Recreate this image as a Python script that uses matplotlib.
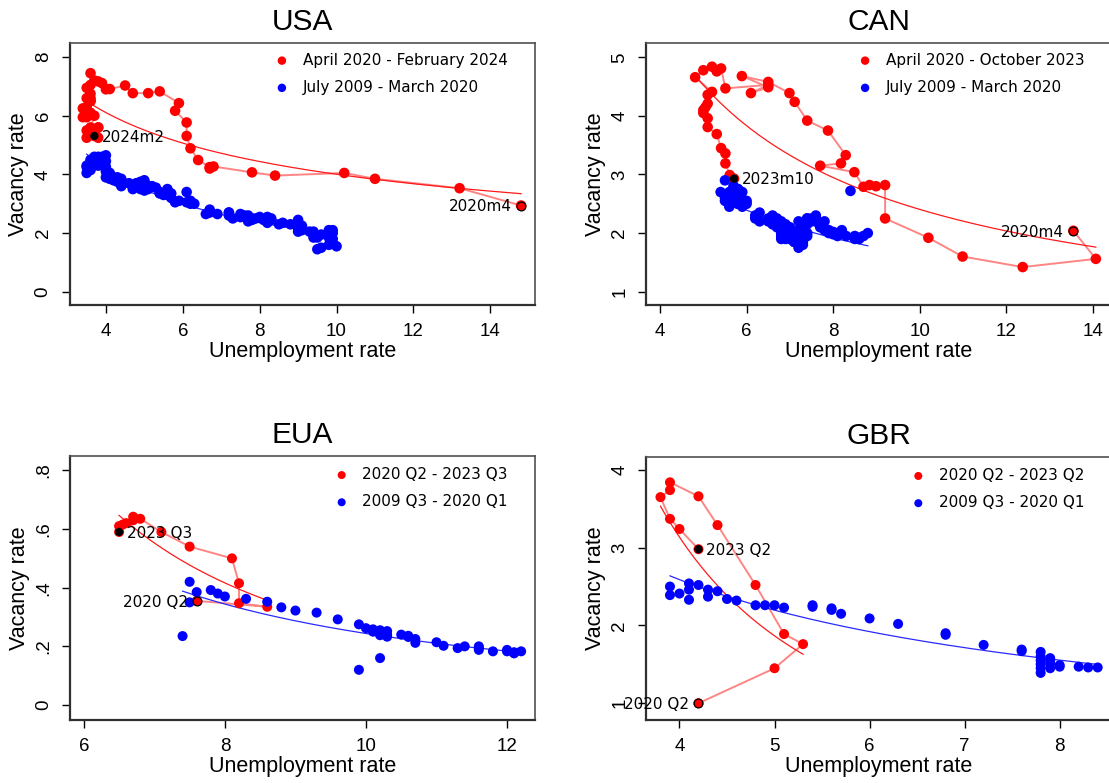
import numpy as np
import matplotlib
matplotlib.use('Agg')
import matplotlib.pyplot as plt

# ---------------- USA (monthly) ----------------
usa_u_post = [14.8, 13.2, 11.0, 10.2, 8.4, 7.8, 6.8, 6.7, 6.7,
              6.4, 6.2, 6.1, 6.1, 5.8, 5.9, 5.4, 5.1, 4.7, 4.5, 4.1, 3.9,
              4.0, 3.8, 3.6, 3.7, 3.6, 3.6, 3.5, 3.6, 3.5, 3.6, 3.6, 3.5,
              3.4, 3.6, 3.5, 3.4, 3.7, 3.6, 3.5, 3.8, 3.8, 3.8, 3.7, 3.7,
              3.5, 3.7]
usa_v_post = [2.94, 3.53, 3.85, 4.05, 3.96, 4.07, 4.27, 4.2, 4.25,
              4.49, 4.89, 5.31, 5.77, 6.17, 6.43, 6.83, 6.77, 6.77, 7.03, 6.91, 7.11,
              6.9, 7.17, 7.45, 7.2, 7.05, 6.75, 6.95, 6.5, 6.3, 6.6, 6.5, 6.6,
              6.25, 6.1, 5.95, 5.95, 6.0, 5.6, 5.5, 5.6, 5.6, 5.25, 5.5, 5.4,
              5.25, 5.31]
usa_u_pre = [9.5, 9.6, 9.8, 10.0, 9.9, 9.9,
             9.8, 9.8, 9.9, 9.9, 9.6, 9.4, 9.4, 9.5, 9.5, 9.4, 9.8, 9.3,
             9.1, 9.0, 9.0, 9.1, 9.0, 9.1, 9.0, 9.0, 9.0, 8.8, 8.6, 8.5,
             8.3, 8.3, 8.2, 8.2, 8.2, 8.2, 8.2, 8.1, 7.8, 7.8, 7.7, 7.9,
             8.0, 7.7, 7.5, 7.6, 7.5, 7.5, 7.3, 7.2, 7.2, 7.2, 6.9, 6.7,
             6.6, 6.7, 6.7, 6.2, 6.3, 6.1, 6.2, 6.1, 5.9, 5.7, 5.8, 5.6,
             5.7, 5.5, 5.4, 5.4, 5.6, 5.3, 5.2, 5.1, 5.0, 5.0, 5.1, 5.0,
             4.8, 4.9, 5.0, 5.1, 4.8, 4.9, 4.8, 4.9, 5.0, 4.9, 4.7, 4.7,
             4.7, 4.6, 4.4, 4.4, 4.4, 4.3, 4.3, 4.4, 4.3, 4.2, 4.2, 4.1,
             4.0, 4.1, 4.0, 4.0, 3.8, 4.0, 3.8, 3.8, 3.7, 3.8, 3.8, 3.9,
             4.0, 3.8, 3.8, 3.7, 3.6, 3.6, 3.7, 3.6, 3.5, 3.6, 3.6, 3.6,
             3.5, 3.5, 4.4]
usa_v_pre = [1.45, 1.5, 1.6, 1.55, 1.65, 1.8,
             2.0, 1.85, 2.0, 2.1, 1.95, 1.85, 2.0, 1.9, 1.85, 2.05, 2.1, 2.05,
             2.1, 2.15, 2.05, 2.2, 2.3, 2.25, 2.35, 2.2, 2.45, 2.3, 2.35, 2.3,
             2.5, 2.45, 2.55, 2.4, 2.5, 2.45, 2.35, 2.45, 2.5, 2.45, 2.4, 2.5,
             2.55, 2.6, 2.55, 2.6, 2.65, 2.55, 2.5, 2.7, 2.6, 2.7, 2.65, 2.7,
             2.65, 2.8, 2.75, 3.0, 3.0, 3.05, 3.1, 3.4, 3.1, 3.2, 3.05, 3.3,
             3.35, 3.3, 3.35, 3.4, 3.5, 3.55, 3.6, 3.5, 3.45, 3.6, 3.55, 3.5,
             3.7, 3.55, 3.75, 3.6, 3.7, 3.75, 3.6, 3.5, 3.8, 3.65, 3.5, 3.6,
             3.65, 3.7, 3.7, 3.65, 3.85, 3.75, 3.85, 3.75, 3.9, 3.9, 3.8, 3.85,
             3.9, 4.05, 4.1, 4.25, 4.4, 4.45, 4.3, 4.55, 4.5, 4.6, 4.5, 4.6,
             4.65, 4.4, 4.45, 4.6, 4.5, 4.4, 4.35, 4.35, 4.3, 4.2, 4.3, 4.15,
             4.05, 4.25, 3.6]

# ---------------- CAN (monthly) ----------------
can_u_post = [13.55, 14.07, 12.38, 10.99, 10.2, 9.2, 9.2, 8.84, 8.99, 8.7,
              8.49, 7.7, 8.18, 8.29, 7.88, 7.4, 7.11, 6.99, 6.5, 5.89,
              6.5, 6.1, 6.5, 5.51, 5.41, 5.31, 5.2, 5.0, 4.81, 5.2,
              5.1, 5.1, 5.05, 5.0, 5.0, 5.1, 5.1, 5.31, 5.41, 5.51,
              5.51, 5.61, 5.71]
can_v_post = [2.04, 1.56, 1.42, 1.6, 1.92, 2.25, 2.82, 2.82, 2.8, 2.79,
              3.04, 3.15, 3.19, 3.33, 3.75, 3.92, 4.24, 4.39, 4.58, 4.68,
              4.49, 4.39, 4.53, 4.47, 4.81, 4.76, 4.84, 4.78, 4.66, 4.41,
              4.36, 4.21, 4.15, 4.1, 4.05, 3.96, 3.81, 3.69, 3.45, 3.36,
              3.19, 2.99, 2.93]
can_u_pre = [8.8, 8.7, 8.6, 8.6, 8.5, 8.5,
             8.3, 8.2, 8.2, 8.1, 8.1, 7.9, 8.0, 8.1, 8.0, 7.9, 7.7, 7.8,
             7.7, 7.8, 7.6, 7.6, 7.5, 7.4, 7.2, 7.3, 7.2, 7.4, 7.6, 7.5,
             7.6, 7.4, 7.2, 7.3, 7.3, 7.2, 7.3, 7.3, 7.4, 7.4, 7.2, 7.1,
             7.0, 7.0, 7.2, 7.1, 7.1, 7.1, 7.2, 7.1, 6.9, 6.9, 6.9, 7.2,
             7.0, 7.0, 6.9, 6.9, 7.0, 7.1, 7.0, 7.0, 6.8, 6.6, 6.6, 6.7,
             6.7, 6.8, 6.9, 6.8, 6.8, 6.8, 6.8, 7.0, 7.1, 7.0, 7.1, 7.2,
             7.2, 7.3, 7.1, 7.1, 7.0, 6.8, 6.9, 7.0, 7.0, 7.0, 6.8, 6.9,
             6.8, 6.6, 6.7, 6.5, 6.6, 6.5, 6.3, 6.2, 6.2, 6.3, 5.9, 5.8,
             5.9, 5.8, 5.8, 5.7, 5.8, 6.0, 5.8, 6.0, 5.9, 5.8, 5.6, 5.6,
             5.8, 5.8, 5.8, 5.7, 5.4, 5.5, 5.7, 5.7, 5.5, 5.6, 5.9, 5.6,
             5.5, 5.6, 8.4]
can_v_pre = [2.0, 1.95, 1.9, 1.92, 1.95, 1.9,
             1.95, 2.0, 2.05, 2.0, 1.98, 2.0, 2.02, 1.95, 1.98, 2.05, 2.1, 2.05,
             2.15, 2.2, 2.2, 2.25, 2.2, 2.25, 2.2, 2.15, 2.05, 2.25, 2.3, 2.25,
             2.2, 2.15, 2.0, 1.95, 2.0, 2.05, 1.9, 1.85, 1.95, 2.0, 1.95, 1.9,
             1.95, 2.0, 1.95, 1.9, 1.85, 1.9, 1.95, 2.0, 2.05, 1.9, 1.95, 1.85,
             1.9, 2.0, 2.05, 2.0, 1.95, 1.9, 2.0, 2.05, 2.1, 2.15, 2.2, 2.15,
             2.1, 2.0, 1.95, 2.05, 2.0, 1.9, 1.95, 1.9, 1.85, 1.95, 1.95, 1.8,
             1.75, 1.8, 1.9, 2.0, 2.05, 2.1, 2.15, 2.0, 2.05, 2.1, 2.15, 2.1,
             2.2, 2.2, 2.25, 2.2, 2.3, 2.25, 2.2, 2.3, 2.25, 2.35, 2.45, 2.5,
             2.55, 2.6, 2.5, 2.6, 2.65, 2.5, 2.6, 2.55, 2.7, 2.75, 2.65, 2.6,
             2.55, 2.6, 2.75, 2.8, 2.7, 2.9, 2.7, 2.8, 2.55, 2.6, 2.5, 2.45,
             2.6, 2.7, 2.72]

# ---------------- EUA (quarterly) ----------------
eua_u_post = [7.6, 8.6, 8.2, 8.2, 8.1, 7.5, 7.1, 6.8, 6.7, 6.7, 6.6, 6.5, 6.55, 6.5]
eua_v_post = [0.355, 0.335, 0.347, 0.415, 0.5, 0.54, 0.59, 0.635, 0.642, 0.63,
              0.62, 0.61, 0.615, 0.59]
eua_u_pre = [7.5, 7.4, 7.5, 7.6, 7.8, 7.9, 8.0, 8.3, 8.6, 8.8, 9.0, 9.3, 9.6, 9.9,
             9.9, 10.0, 10.1, 10.2, 10.3, 10.2, 10.3, 10.2, 10.25, 10.5, 10.6, 10.7,
             10.7, 11.0, 11.1, 11.3, 11.4, 11.6, 11.6, 11.6, 11.8, 12.0, 12.0, 12.1,
             12.2, 12.1, 10.1, 10.3, 10.6]
eua_v_pre = [0.42, 0.235, 0.35, 0.385, 0.392, 0.38, 0.37, 0.362, 0.352, 0.333,
             0.322, 0.315, 0.292, 0.275, 0.12, 0.262, 0.258, 0.255, 0.252, 0.238,
             0.24, 0.16, 0.245, 0.24, 0.232, 0.225, 0.212, 0.214, 0.202, 0.194,
             0.2, 0.2, 0.188, 0.195, 0.183, 0.188, 0.183, 0.176, 0.183, 0.18,
             0.25, 0.233, 0.236]

# ---------------- GBR (quarterly) ----------------
gbr_u_post = [4.2, 5.0, 5.3, 5.1, 4.8, 4.4, 4.2, 3.9, 3.9, 3.8, 3.9, 4.0, 4.2]
gbr_v_post = [1.0, 1.45, 1.76, 1.89, 2.52, 3.29, 3.66, 3.84, 3.74, 3.65, 3.37, 3.24, 2.98]
gbr_u_pre = [3.9, 3.9, 4.0, 4.1, 4.1, 4.1, 4.2, 4.3, 4.3, 4.4, 4.5, 4.6, 4.8, 4.9,
             5.0, 5.1, 5.4, 5.4, 5.6, 5.6, 5.7, 6.0, 6.3, 6.8, 6.8, 7.2, 7.6, 7.6,
             7.8, 7.8, 7.8, 7.8, 7.8, 7.8, 7.9, 7.9, 7.9, 8.0, 8.0, 8.2, 8.3, 8.4,
             7.9]
gbr_v_pre = [2.5, 2.39, 2.41, 2.54, 2.46, 2.33, 2.52, 2.46, 2.37, 2.44, 2.34, 2.32,
             2.26, 2.26, 2.26, 2.23, 2.26, 2.24, 2.22, 2.2, 2.15, 2.09, 2.02, 1.9,
             1.88, 1.75, 1.69, 1.67, 1.66, 1.6, 1.55, 1.5, 1.45, 1.39, 1.58, 1.51,
             1.45, 1.49, 1.47, 1.47, 1.46, 1.46, 1.55]

panels = [
    dict(name='USA', up=usa_u_post, vp=usa_v_post, ub=usa_u_pre, vb=usa_v_pre,
         lab_post='April 2020 - February 2024', lab_pre='July 2009 - March 2020',
         first='2020m4', last='2024m2',
         pos=[0.0629, 0.6105, 0.4191, 0.335], xlim=(3.06, 15.15), ylim=(-0.45, 8.49),
         xt=[4, 6, 8, 10, 12, 14], yt=[0, 2, 4, 6, 8], ytl=['0', '2', '4', '6', '8'],
         leg=(0.440, 0.962), ms=58),
    dict(name='CAN', up=can_u_post, vp=can_v_post, ub=can_u_pre, vb=can_v_pre,
         lab_post='April 2020 - October 2023', lab_pre='July 2009 - March 2020',
         first='2020m4', last='2023m10',
         pos=[0.5827, 0.6105, 0.4191, 0.335], xlim=(3.68, 14.42), ylim=(0.773, 5.25),
         xt=[4, 6, 8, 10, 12, 14], yt=[1, 2, 3, 4, 5], ytl=['1', '2', '3', '4', '5'],
         leg=(0.4545, 0.962), ms=58),
    dict(name='EUA', up=eua_u_post, vp=eua_v_post, ub=eua_u_pre, vb=eua_v_pre,
         lab_post='2020 Q2 - 2023 Q3', lab_pre='2009 Q3 - 2020 Q1',
         first='2020 Q2', last='2023 Q3',
         pos=[0.0635, 0.0805, 0.4185, 0.3375], xlim=(5.81, 12.39), ylim=(-0.051, 0.85),
         xt=[6, 8, 10, 12], yt=[0, 0.2, 0.4, 0.6, 0.8], ytl=['0', '.2', '.4', '.6', '.8'],
         leg=(0.568, 0.957), ms=52),
    dict(name='GBR', up=gbr_u_post, vp=gbr_v_post, ub=gbr_u_pre, vb=gbr_v_pre,
         lab_post='2020 Q2 - 2023 Q2', lab_pre='2009 Q3 - 2020 Q1',
         first='2020 Q2', last='2023 Q2',
         pos=[0.5827, 0.0805, 0.4191, 0.3363], xlim=(3.65, 8.54), ylim=(0.785, 4.17),
         xt=[4, 5, 6, 7, 8], yt=[1, 2, 3, 4], ytl=['1', '2', '3', '4'],
         leg=(0.569, 0.957), ms=52),
]

SANS = 'Liberation Sans'
SMALL = 'DejaVu Sans'


def power_fit(u, v):
    u = np.asarray(u, float)
    v = np.asarray(v, float)
    b, a = np.polyfit(np.log(u), np.log(v), 1)
    xs = np.linspace(u.min(), u.max(), 200)
    return xs, np.exp(a + b * np.log(xs))


fig = plt.figure(figsize=(11.09, 7.83), dpi=100)

for p in panels:
    ax = fig.add_axes(p['pos'])
    up, vp = np.array(p['up']), np.array(p['vp'])
    ub, vb = np.array(p['ub']), np.array(p['vb'])

    # connecting path of the post-2020 observations
    ax.plot(up, vp, color='#ff8585', lw=1.4, zorder=2)
    # fitted curves
    xs, ys = power_fit(ub, vb)
    ax.plot(xs, ys, color='#2a2aff', lw=0.9, zorder=2)
    xs, ys = power_fit(up, vp)
    ax.plot(xs, ys, color='#ff1a1a', lw=0.9, zorder=2)

    ax.scatter(up, vp, s=p['ms'], color='red', edgecolors='none', zorder=3, label=p['lab_post'])
    ax.scatter(ub, vb, s=p['ms'], color='blue', edgecolors='none', zorder=3, label=p['lab_pre'])
    # highlighted first and last observations
    ax.scatter(up[:1], vp[:1], s=40, color='red', edgecolors='black', linewidths=0.9, zorder=4)
    ax.scatter(up[-1:], vp[-1:], s=36, color='black', edgecolors='none', zorder=4)

    ax.annotate(p['first'], (up[0], vp[0]), xytext=(-6.5, -1), textcoords='offset points',
                ha='right', va='center', fontsize=11, family=SMALL, zorder=5)
    ax.annotate(p['last'], (up[-1], vp[-1]), xytext=(5.5, -1), textcoords='offset points',
                ha='left', va='center', fontsize=11, family=SMALL, zorder=5)

    ax.set_xlim(p['xlim'])
    ax.set_ylim(p['ylim'])
    ax.set_xticks(p['xt'])
    ax.set_yticks(p['yt'])
    ax.set_yticklabels(p['ytl'])
    ax.tick_params(direction='out', length=6, width=1, pad=7, labelsize=13.5)
    for lab in ax.get_xticklabels() + ax.get_yticklabels():
        lab.set_family(SANS)
    for lab in ax.get_yticklabels():
        lab.set_rotation(90)
        lab.set_va('center')

    for side in ['left', 'bottom']:
        ax.spines[side].set_linewidth(1.6)
        ax.spines[side].set_color('#303030')
    for side in ['top', 'right']:
        ax.spines[side].set_linewidth(1.2)
        ax.spines[side].set_color('#505050')

    ax.set_title(p['name'], fontsize=21.5, family=SANS, pad=9)
    ax.set_xlabel('Unemployment rate', fontsize=15.5, family=SANS, labelpad=1)
    ax.set_ylabel('Vacancy rate', fontsize=15.5, family=SANS, labelpad=4)

    ax.legend(loc='upper left', bbox_to_anchor=p['leg'], frameon=False,
              prop={'family': SMALL, 'size': 11}, handlelength=1.0,
              handletextpad=0.85, labelspacing=0.8, borderpad=0, borderaxespad=0,
              scatterpoints=1, markerscale=0.8)

fig.savefig('out.png', dpi=100)
